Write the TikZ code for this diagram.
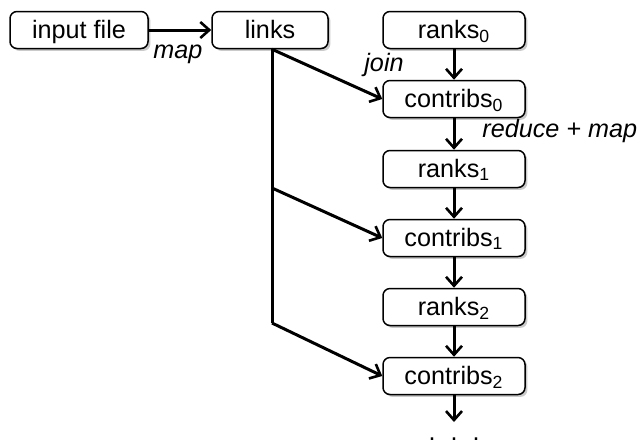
\documentclass[tikz,border=0pt]{standalone}
\usepackage{fontspec}
\setmainfont{Liberation Sans}
\usetikzlibrary{arrows.meta,shadows}
\begin{document}
\begin{tikzpicture}[x=0.5pt,y=-0.5pt,
  font=\fontsize{12.6}{15}\selectfont,
  box/.style={draw=black,line width=0.75pt,rounded corners=3.5pt,fill=white,
    minimum height=18.5pt,inner sep=0pt,text height=0.9em,text depth=0.1em,
    drop shadow={shadow xshift=1.2pt,shadow yshift=-1.2pt,opacity=0.35,fill=black!60}},
  colbox/.style={box,minimum width=71pt},
  conn/.style={line width=1.5pt,-{Straight Barb[length=4.5pt,width=8pt,line width=1.3pt]}},
  plain/.style={line width=1.5pt},
  lab/.style={font=\fontsize{12.6}{15}\selectfont\itshape,inner sep=0pt,anchor=base}]
\useasboundingbox (0,0) rectangle (640,440);
\node[box,minimum width=69pt] (input) at (79,30) {input file};
\node[box,minimum width=58pt] (links) at (270,30) {links};
\node[colbox] (r0) at (454,30) {ranks\textsubscript{0}};
\node[colbox] (c0) at (454,99) {contribs\textsubscript{0}};
\node[colbox] (r1) at (454,169) {ranks\textsubscript{1}};
\node[colbox] (c1) at (454,238) {contribs\textsubscript{1}};
\node[colbox] (r2) at (454,307) {ranks\textsubscript{2}};
\node[colbox] (c2) at (454,376) {contribs\textsubscript{2}};
\coordinate (b1) at (272,188);
\coordinate (b2) at (272,323);
\coordinate (end) at (454,422);
\node[inner sep=0pt,anchor=base] (dots) at (454,440) {.\hskip 7.5pt.\hskip 7.5pt.};
\draw[conn] (input) -- (links);
\draw[plain] (links.south -| b1) -- (b2);
\draw[conn] (links.south -| b1) -- (c0.west);
\draw[conn] (b1) -- (c1.west);
\draw[conn] (b2) -- (c2.west);
\draw[conn] (r0) -- (c0);
\draw[conn] (c0) -- (r1);
\draw[conn] (r1) -- (c1);
\draw[conn] (c1) -- (r2);
\draw[conn] (r2) -- (c2);
\draw[conn] (c2) -- (end);
\node[lab] (lmap) at (178,58) {map};
\node[lab] (ljoin) at (384,71) {join};
\node[lab,anchor=base west] (lred) at (482,137) {reduce + map};
\end{tikzpicture}
\end{document}
